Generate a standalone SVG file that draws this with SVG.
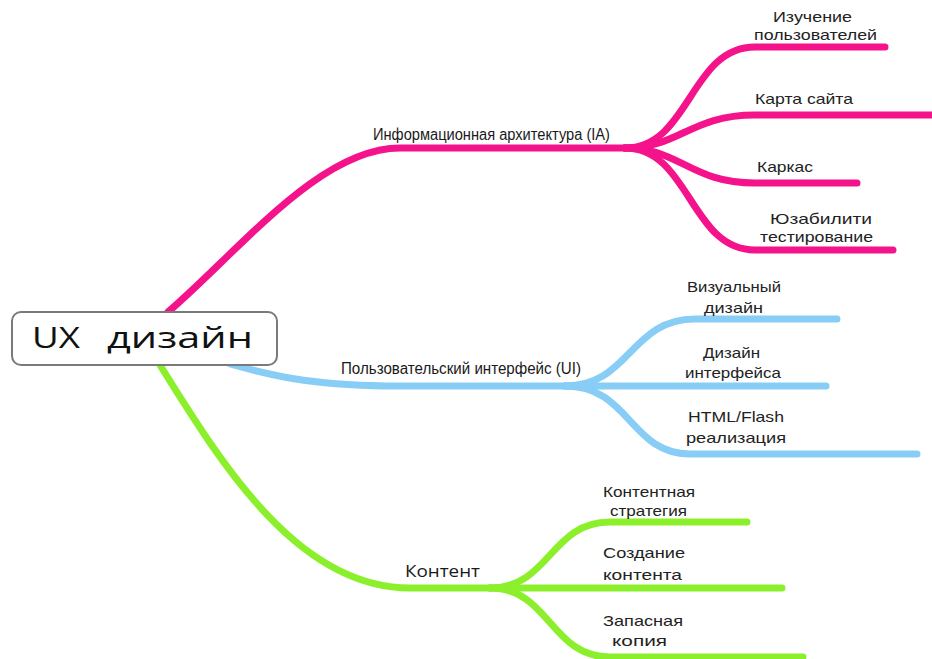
<svg xmlns="http://www.w3.org/2000/svg" width="932" height="659" viewBox="0 0 932 659">
<style>
.b{fill:none;stroke-width:7;stroke-linecap:round;stroke-linejoin:round}
.p{stroke:#f5138c}
.u{stroke:#88cdf6}
.g{stroke:#8cef2c}
.t{font-family:"Liberation Sans","Open Sans",sans-serif;font-size:15px;fill:#222}
.c{font-family:"Liberation Sans","Open Sans",sans-serif;font-size:16px;fill:#1a1a1a}
</style>
<rect width="932" height="659" fill="#fff"/>
<g id="connectors">
<path class="b p" d="M168,312 C240,250 320,148 400,148 L625,148"/>
<path class="b p" d="M625,148 C690,148 690,47 755,47 L885,47"/>
<path class="b p" d="M625,148 C680,148 690,115 755,115 L940,115"/>
<path class="b p" d="M625,148 C680,148 690,183 755,183 L857,183"/>
<path class="b p" d="M625,148 C690,148 690,250 755,250 L893,250"/>
<path class="b u" d="M230,364 C280,378 320,386 400,386 L565,386"/>
<path class="b u" d="M565,386 C630,386 630,319 695,319 L837,319"/>
<path class="b u" d="M565,386 L826,386"/>
<path class="b u" d="M565,386 C630,386 630,454 690,454 L917,454"/>
<path class="b g" d="M160,365 C225,470 300,588 410,588 L490,588"/>
<path class="b g" d="M490,588 C550,588 550,522 610,522 L747,522"/>
<path class="b g" d="M490,588 L782,588"/>
<path class="b g" d="M490,588 C550,588 550,657 610,657 L803,657"/>
</g>
<g id="root">
<rect x="12" y="312" width="265" height="53" rx="9" fill="#fff" stroke="#7a7a7a" stroke-width="2"/>
<text x="32" y="348" font-family="Open Sans, Liberation Sans, sans-serif" font-size="30" fill="#111"><tspan textLength="48" lengthAdjust="spacingAndGlyphs">UX</tspan><tspan x="107" textLength="146" lengthAdjust="spacingAndGlyphs">дизайн</tspan></text>
</g>
<g id="ia">
<text class="c" x="373" y="140" textLength="237" lengthAdjust="spacingAndGlyphs">Информационная архитектура (IA)</text>
</g>
<g id="ia-research">
<text class="t" x="773" y="22" textLength="79" lengthAdjust="spacingAndGlyphs">Изучение</text>
<text class="t" x="754" y="40" textLength="123" lengthAdjust="spacingAndGlyphs">пользователей</text>
</g>
<g id="ia-sitemap">
<text class="t" x="755" y="104" textLength="98" lengthAdjust="spacingAndGlyphs">Карта сайта</text>
</g>
<g id="ia-wireframe">
<text class="t" x="757" y="172" textLength="56" lengthAdjust="spacingAndGlyphs">Каркас</text>
</g>
<g id="ia-usability">
<text class="t" x="770" y="224" textLength="102" lengthAdjust="spacingAndGlyphs">Юзабилити</text>
<text class="t" x="760" y="242" textLength="113" lengthAdjust="spacingAndGlyphs">тестирование</text>
</g>
<g id="ui">
<text class="c" x="341" y="374" textLength="240" lengthAdjust="spacingAndGlyphs">Пользовательский интерфейс (UI)</text>
</g>
<g id="ui-visual">
<text class="t" x="687" y="292" textLength="94" lengthAdjust="spacingAndGlyphs">Визуальный</text>
<text class="t" x="704" y="313" textLength="59" lengthAdjust="spacingAndGlyphs">дизайн</text>
</g>
<g id="ui-interface">
<text class="t" x="703" y="358" textLength="57" lengthAdjust="spacingAndGlyphs">Дизайн</text>
<text class="t" x="685" y="378" textLength="96" lengthAdjust="spacingAndGlyphs">интерфейса</text>
</g>
<g id="ui-html">
<text class="t" x="688" y="422" textLength="96" lengthAdjust="spacingAndGlyphs">HTML/Flash</text>
<text class="t" x="686" y="443" textLength="100" lengthAdjust="spacingAndGlyphs">реализация</text>
</g>
<g id="content">
<text x="405" y="577" font-family="Open Sans, Liberation Sans, sans-serif" font-size="17" fill="#1a1a1a" textLength="75" lengthAdjust="spacingAndGlyphs">Контент</text>
</g>
<g id="content-strategy">
<text class="t" x="603" y="497" textLength="92" lengthAdjust="spacingAndGlyphs">Контентная</text>
<text class="t" x="610" y="516" textLength="77" lengthAdjust="spacingAndGlyphs">стратегия</text>
</g>
<g id="content-creation">
<text class="t" x="603" y="558" textLength="82" lengthAdjust="spacingAndGlyphs">Создание</text>
<text class="t" x="603" y="580" textLength="79" lengthAdjust="spacingAndGlyphs">контента</text>
</g>
<g id="content-backup">
<text class="t" x="603" y="626" textLength="80" lengthAdjust="spacingAndGlyphs">Запасная</text>
<text class="t" x="612" y="646" textLength="55" lengthAdjust="spacingAndGlyphs">копия</text>
</g>
</svg>
